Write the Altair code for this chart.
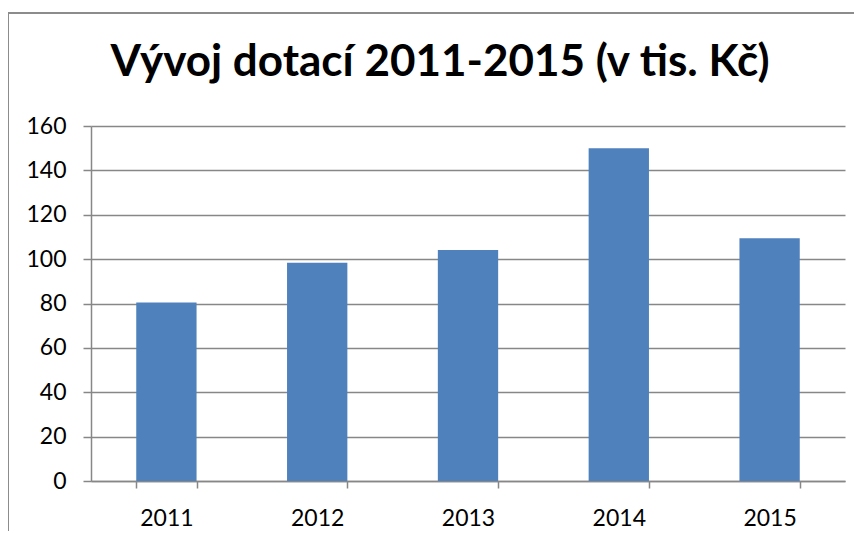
import altair as alt
import pandas as pd

years = ["2011", "2012", "2013", "2014", "2015"]
values = [80.5, 98.4, 104.1, 150.0, 109.4]
y_ticks = [0, 20, 40, 60, 80, 100, 120, 140, 160]
title_text = "Vývoj dotací 2011-2015 (v tis. Kč)"

df = pd.DataFrame({"rok": years, "dotace": values})

FONT = "Lato"
GRAY = "#878787"

bars = alt.Chart(df).mark_bar(color="#4f81bd").encode(
    x=alt.X(
        "rok:N",
        sort=None,
        title=None,
        scale=alt.Scale(paddingInner=0.6, paddingOuter=0.3),
        axis=alt.Axis(
            tickBand="extent",
            labelAngle=0,
            labelFont=FONT,
            labelFontSize=23,
            labelColor="#000000",
            labelPadding=19,
            tickSize=7,
            tickColor=GRAY,
            tickWidth=1.5,
            domainColor=GRAY,
            domainWidth=1.5,
            grid=False,
        ),
    ),
    y=alt.Y(
        "dotace:Q",
        title=None,
        scale=alt.Scale(domain=[0, 160], nice=False),
        axis=alt.Axis(
            values=y_ticks,
            labelFont=FONT,
            labelFontSize=23,
            labelColor="#000000",
            labelPadding=17,
            tickSize=8,
            tickColor=GRAY,
            tickWidth=1.5,
            domainColor=GRAY,
            domainWidth=1.5,
            grid=True,
            gridColor=GRAY,
            gridWidth=1.5,
        ),
    ),
)

border = alt.Chart(alt.Data(values=[{"k": 1}])).mark_rect(
    fill=None, stroke="#8c8c8c", strokeWidth=2, clip=False
).encode(
    x=alt.value(-83),
    x2=alt.value(800),
    y=alt.value(-113),
    y2=alt.value(440),
)

chart = alt.layer(border, bars).properties(
    width=754,
    height=355,
    padding={"left": 83, "top": 118, "right": 9, "bottom": 50},
    autosize=alt.AutoSizeParams(type="none"),
    title=alt.TitleParams(
        text=title_text,
        font=FONT,
        fontSize=44,
        fontWeight="bold",
        color="#000000",
        anchor="middle",
        baseline="alphabetic",
        offset=-108,
        frame="group",
        dx=-28,
    ),
).configure_view(stroke=None)

chart.save("out.html", embed_options={"renderer": "svg", "actions": False})
